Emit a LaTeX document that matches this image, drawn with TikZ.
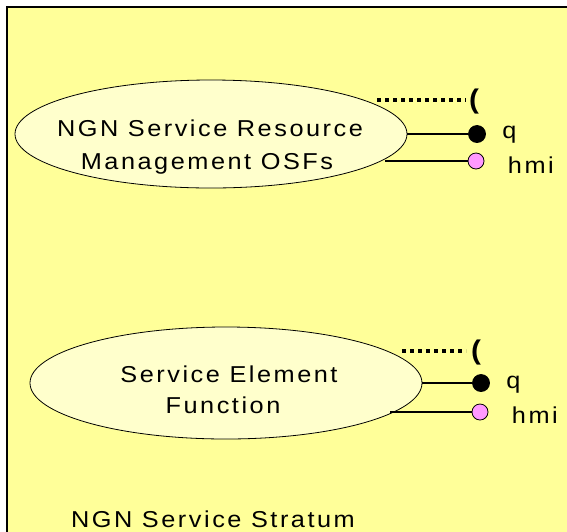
\documentclass[tikz,border=0pt]{standalone}
\usepackage{fontspec}
\setmainfont[LetterSpace=11, FakeStretch=1.1]{Liberation Sans}
\usetikzlibrary{shapes}

\definecolor{stratum}{HTML}{FFFF99}
\definecolor{osf}{HTML}{FFFFCC}
\definecolor{hmipink}{HTML}{FF99FF}

\begin{document}
\begin{tikzpicture}[x=1pt, y=-1pt, font=\fontsize{23}{26}\selectfont,
    func/.style={ellipse, draw, thick, fill=osf, inner sep=0pt, align=center},
    port/.style={circle, draw, thick, inner sep=0pt, minimum size=17pt},
    link/.style={line width=1.2pt},
    dots/.style={line width=3.5pt, dash pattern=on 4pt off 4pt}]
      \useasboundingbox (0, 0) rectangle (567, 531);
      \clip (0, 0) rectangle (567, 531);

      % Stratum
      \draw[line width=1.5pt, fill=stratum] (7, 7) rectangle (600, 560);
      \node (S) at (213, 519) {NGN Service Stratum};

      % Nodes
      \node[func, minimum width=392pt, minimum height=108pt] (RM) at (211, 134) {};
      \node at (210, 128) {NGN Service Resource};
      \node at (207, 164) {Management OSFs};
      \node[func, minimum width=392pt, minimum height=112pt] (SEF) at (226, 383) {};
      \node at (229, 374) {Service Element};
      \node at (223, 405) {Function};

      \node[port, fill=black] (q1) at (477, 134) {};
      \node[port, fill=hmipink, minimum size=16pt] (h1) at (476, 161) {};
      \node[port, fill=black] (q2) at (481, 383) {};
      \node[port, fill=hmipink, minimum size=16pt] (h2) at (480, 412) {};

      \coordinate (d1) at (377, 100);
      \coordinate (d2) at (402, 351);
      \node[font=\fontsize{27}{27}\bfseries] (p1) at (474, 102) {(};
      \node[font=\fontsize{27}{27}\bfseries] (p2) at (476, 353) {(};

      % Interfaces
      \draw[dots] (d1) -- (466, 100);
      \draw[dots] (d2) -- (466, 351);
      \draw[link] (RM.east) -- (q1);
      \draw[link] (385, 161) -- (h1);
      \draw[link] (SEF.east) -- (q2);
      \draw[link] (390, 412) -- (h2);

      % Labels
      \node[anchor=west] at (q1.east) [xshift=13pt, yshift=-1pt] {q};
      \node[anchor=west] at (h1.east) [xshift=20pt, yshift=-4pt] {hmi};
      \node[anchor=west] at (q2.east) [xshift=13pt, yshift=-2pt] {q};
      \node[anchor=west] at (h2.east) [xshift=20pt, yshift=-3pt] {hmi};
    \end{tikzpicture}
\end{document}
